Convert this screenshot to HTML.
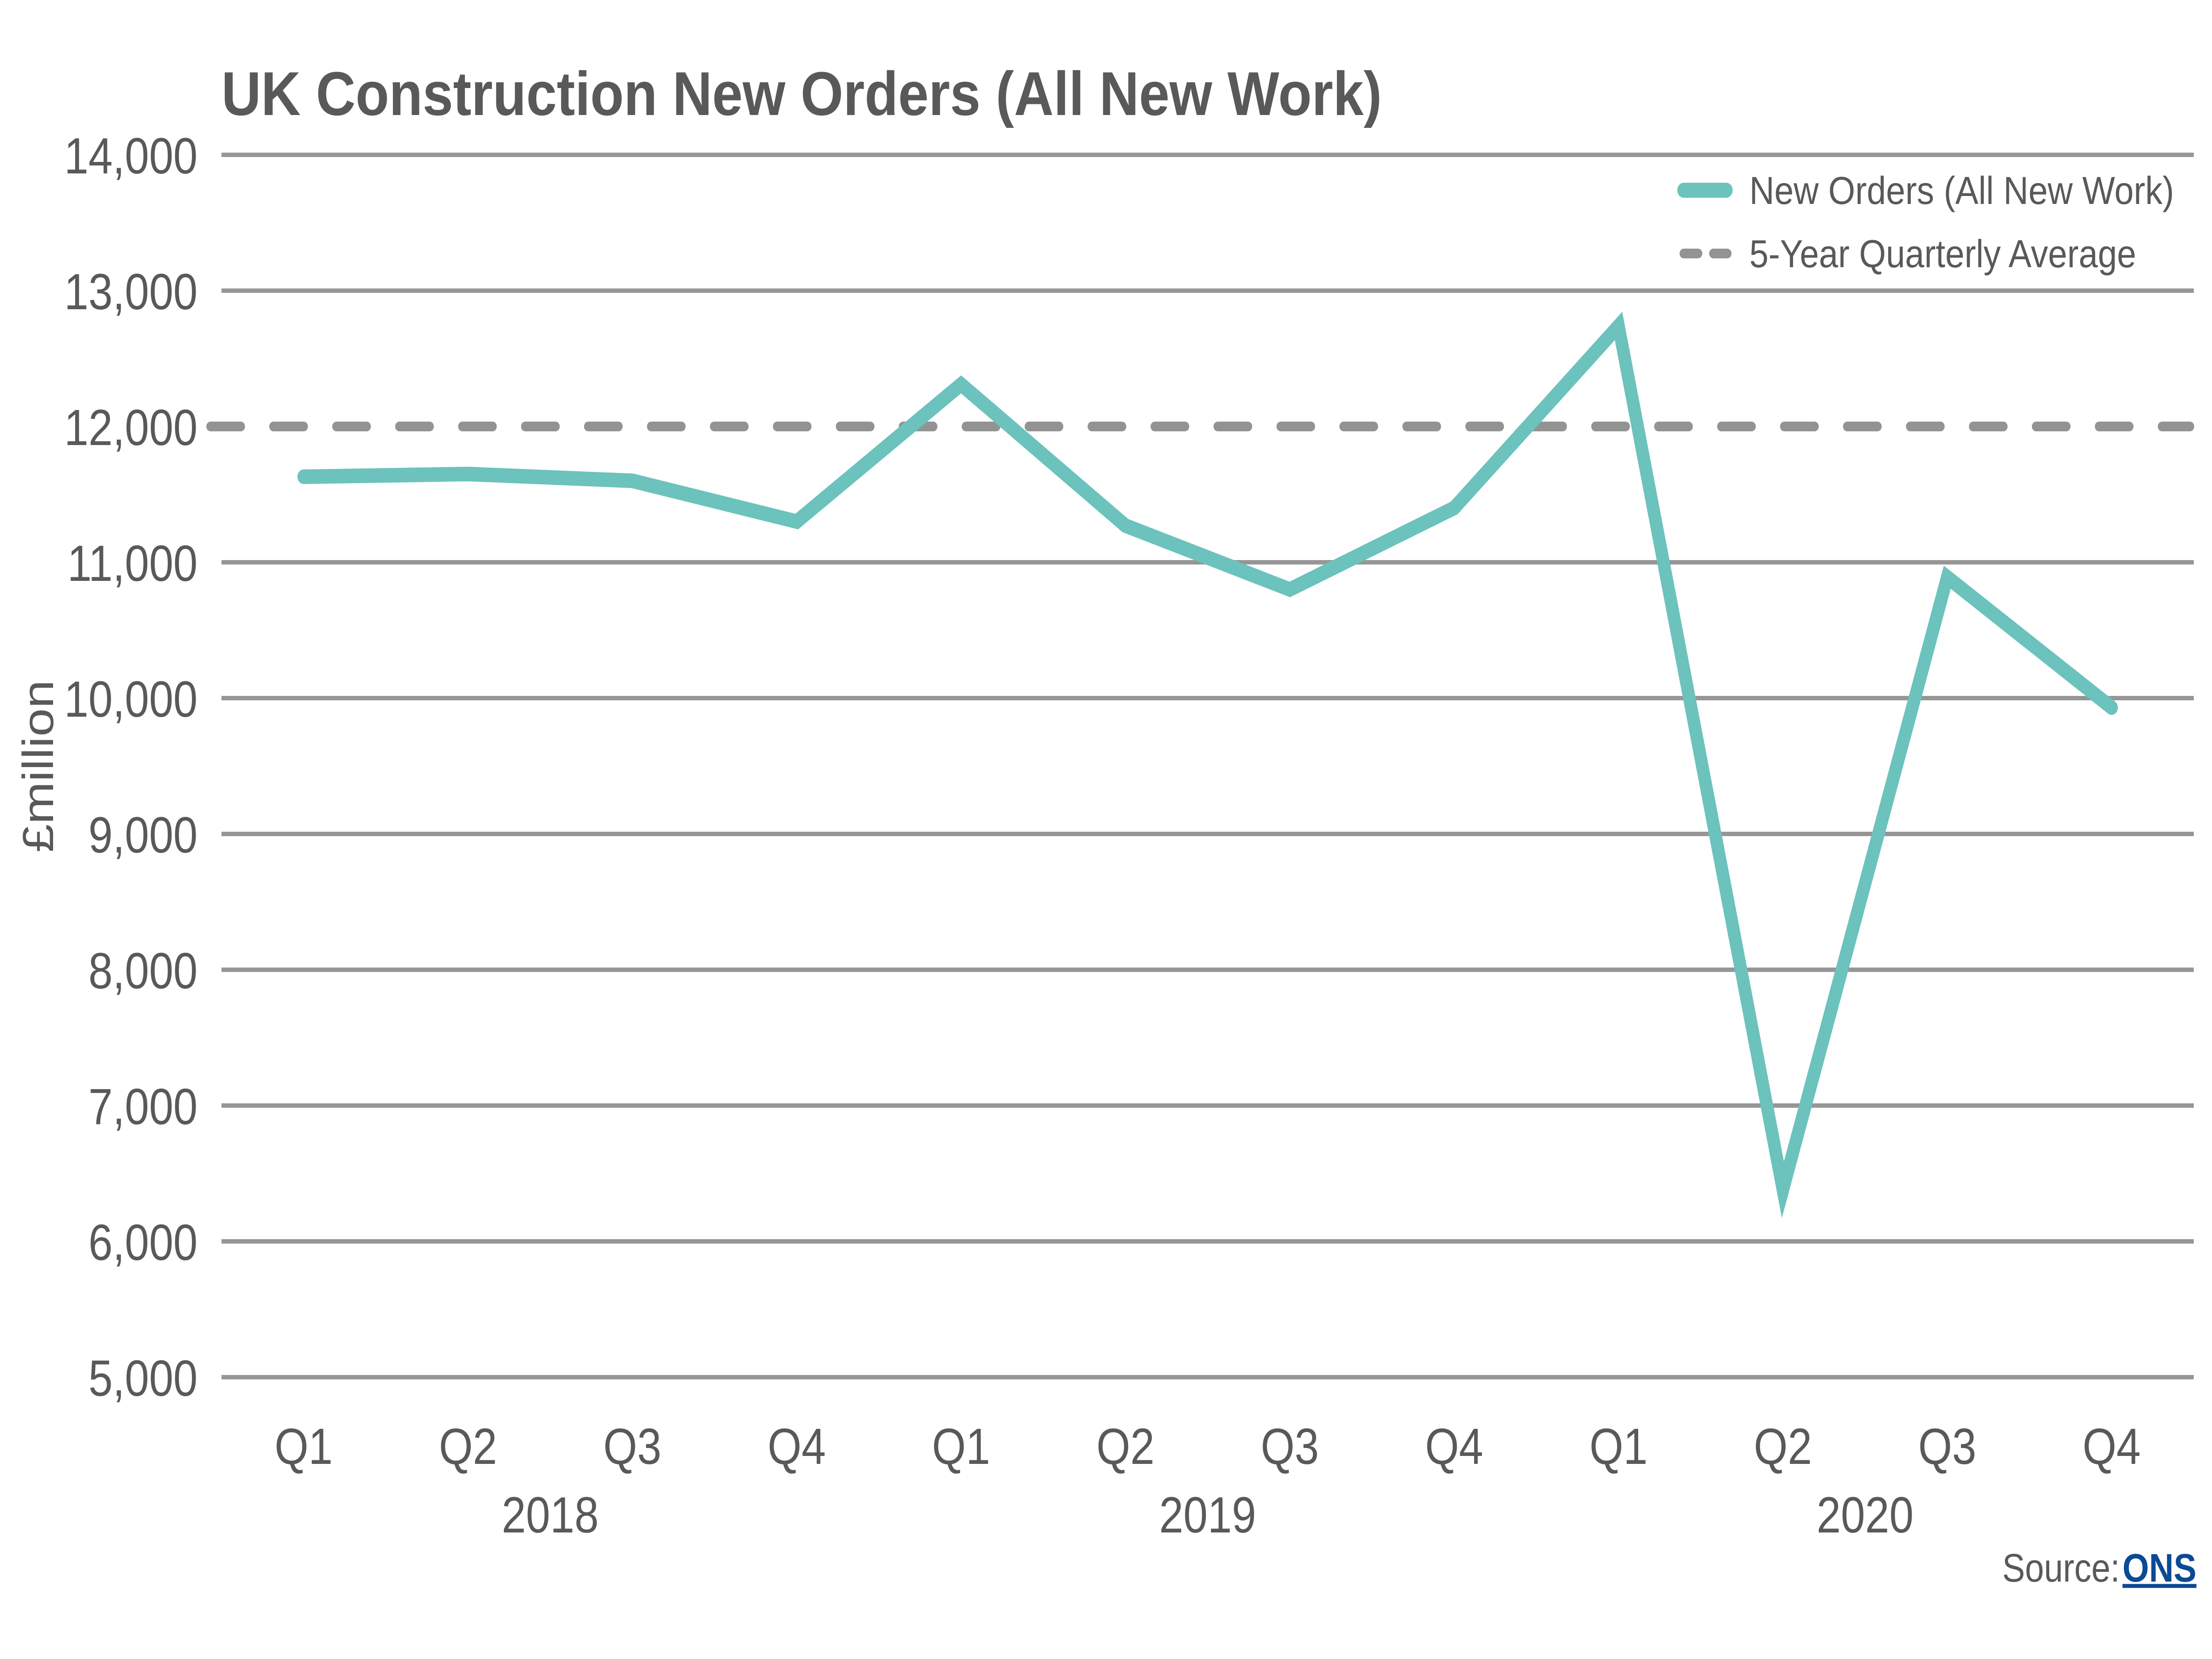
<!DOCTYPE html>
<html><head><meta charset="utf-8"><style>
html,body{margin:0;padding:0;background:#fff;overflow:hidden;width:100%;height:100%}
svg{display:block;width:100vw;height:100vh}
text{font-family:"Liberation Sans",sans-serif;fill:#595959}
</style></head><body>
<svg id="chart" viewBox="0 0 5833 3750" preserveAspectRatio="none" xmlns="http://www.w3.org/2000/svg">
<text x="584" y="260" font-size="140" font-weight="bold" textLength="3060" lengthAdjust="spacingAndGlyphs">UK Construction New Orders (All New Work)</text>
<g id="grid"></g>
<g id="yticks"></g>
<text transform="translate(140,1732) rotate(-90)" text-anchor="middle" font-size="115">£million</text>
<g id="series"></g>
<g id="xticks"></g>
<g>
<line x1="4440" y1="430" x2="4552" y2="430" stroke="#6cc2bd" stroke-width="34" stroke-linecap="round"/>
<text x="4613" y="461" font-size="88" textLength="1120" lengthAdjust="spacingAndGlyphs">New Orders (All New Work)</text>
<line x1="4440" y1="573" x2="4555" y2="573" stroke="#939393" stroke-width="22" stroke-linecap="round" stroke-dasharray="38 40"/>
<text x="4613" y="604" font-size="88" textLength="1020" lengthAdjust="spacingAndGlyphs">5-Year Quarterly Average</text>
</g>
<text x="5590" y="3575" text-anchor="end" font-size="90">Source:</text>
<text x="5792" y="3575" text-anchor="end" font-size="90" font-weight="bold" style="fill:#0b4a94" text-decoration="underline">ONS</text>
</svg>
<script>
const quarters = ["Q1","Q2","Q3","Q4","Q1","Q2","Q3","Q4","Q1","Q2","Q3","Q4"];
const years = ["2018","2019","2020"];
const newOrders = [11630, 11650, 11600, 11300, 12310, 11270, 10800, 11400, 12740, 6380, 10890, 9930];
const averageValue = [12000];
const yTicks = [5000,6000,7000,8000,9000,10000,11000,12000,13000,14000];

const NS = "http://www.w3.org/2000/svg";
const L = 584, R = 5785, T = 350, B = 3113, yMin = 5000, yMax = 14000;
const band = (R - L) / quarters.length;
const x = i => L + band * (i + 0.5);
const y = v => B - (v - yMin) / (yMax - yMin) * (B - T);
function mk(tag, attrs, parent){const e=document.createElementNS(NS,tag);for(const k in attrs)e.setAttribute(k,attrs[k]);parent.appendChild(e);return e;}

const grid = document.getElementById('grid');
const yt = document.getElementById('yticks');
yTicks.forEach(v => {
  if (v === averageValue[0]) return;
  const g = mk('line',{x1:L,x2:R,y1:y(v),y2:y(v),stroke:'#969696','stroke-width':10},grid);
  
  
});
yTicks.forEach(v => {
  const t = mk('text',{x:521,y:y(v)+42,'text-anchor':'end','font-size':115},yt);
  t.textContent = v.toLocaleString('en-GB');
  
  
});

const s = document.getElementById('series');
const avg = mk('line',{x1:555,x2:R-10,y1:y(averageValue[0]),y2:y(averageValue[0]),stroke:'#939393','stroke-width':22,'stroke-linecap':'round','stroke-dasharray':'80 86'},s);


const pts = newOrders.map((v,i)=>x(i)+','+y(v)).join(' ');
const pl = mk('polyline',{points:pts,fill:'none',stroke:'#6cc2bd','stroke-width':33,'stroke-linejoin':'miter','stroke-linecap':'round'},s);



const xt = document.getElementById('xticks');
quarters.forEach((q,i) => {
  const t = mk('text',{x:x(i),y:3309,'text-anchor':'middle','font-size':115},xt);
  t.textContent = q;
  
  
});
years.forEach((yr,j) => {
  const t = mk('text',{x:(x(j*4)+x(j*4+3))/2,y:3464,'text-anchor':'middle','font-size':115},xt);
  t.textContent = yr;
  
  
});
</script>
</body></html>
